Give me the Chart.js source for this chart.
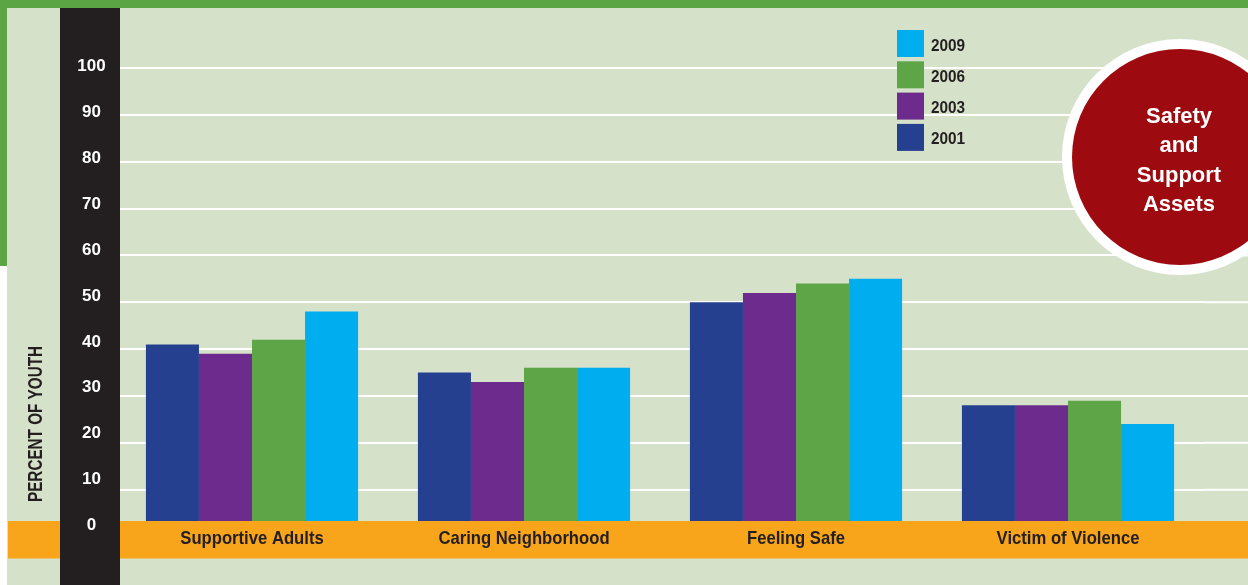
<!DOCTYPE html>
<html>
<head>
<meta charset="utf-8">
<script src="https://cdn.jsdelivr.net/npm/chart.js@4/dist/chart.umd.min.js"></script>
<style>
html,body{margin:0;padding:0;background:#fff;}
#wrap{width:1248px;height:585px;}
</style>
</head>
<body>
<div id="wrap"><canvas id="c" width="1248" height="585"></canvas></div>
<script>
// ---- data ----
const categories = ['Supportive Adults', 'Caring Neighborhood', 'Feeling Safe', 'Victim of Violence'];
const seriesNames = ['2001', '2003', '2006', '2009'];
const values2001 = [41, 35, 50, 28];
const values2003 = [39, 33, 52, 28];
const values2006 = [42, 36, 54, 29];
const values2009 = [48, 36, 55, 24];
const yTicks = [0, 10, 20, 30, 40, 50, 60, 70, 80, 90, 100];
const axisTitle = 'PERCENT OF YOUTH';
const badgeLines = ['Safety', 'and', 'Support', 'Assets'];

// ---- styles ----
const COL = {
  bg: '#d5e1c8', green: '#5ca545', black: '#231f20', orange: '#f8a51b',
  navy: '#24408e', purple: '#6d2c8d', lgreen: '#5da546', cyan: '#00aeef',
  red: '#9d0a10', white: '#ffffff', text: '#231f20'
};
const SANS = '"Liberation Sans", Arial, Helvetica, sans-serif';
const seriesColors = [COL.navy, COL.purple, COL.lgreen, COL.cyan];
const seriesValues = [values2001, values2003, values2006, values2009];

// draw a scale's labels horizontally condensed (reference uses a condensed face)
function condenseLabels(scale, f) {
  if (!scale || scale._condensed) return;
  scale._condensed = true;
  const orig = scale.drawLabels;
  scale.drawLabels = function (area) {
    const ctx = this.ctx;
    const base = CanvasRenderingContext2D.prototype.fillText;
    ctx.fillText = function (t, x, y, mw) {
      this.save(); this.scale(f, 1);
      if (mw === undefined) base.call(this, t, x / f, y); else base.call(this, t, x / f, y, mw / f);
      this.restore();
    };
    try { orig.call(this, area); } finally { delete ctx.fillText; }
  };
}

function condensedText(ctx, text, x, y, f) {
  ctx.save(); ctx.translate(x, y); ctx.scale(f, 1); ctx.fillText(text, 0, 0); ctx.restore();
}

const decor = {
  id: 'decor',
  beforeDraw(chart) {
    condenseLabels(chart.scales.x, 0.9);
    const {ctx, width, height} = chart;
    ctx.save();
    ctx.fillStyle = COL.white; ctx.fillRect(0, 0, width, height);
    ctx.fillStyle = COL.bg; ctx.fillRect(7, 0, width - 7, height);
    ctx.fillStyle = COL.green;
    ctx.fillRect(0, 0, width, 8);
    ctx.fillRect(0, 0, 7, 266);
    ctx.restore();
  },
  beforeDatasetsDraw(chart) {
    // extend horizontal grid lines to the right edge
    const {ctx, chartArea, width} = chart;
    const y = chart.scales.y;
    ctx.save();
    ctx.strokeStyle = COL.white; ctx.lineWidth = 2;
    yTicks.filter(v => v >= y.min).forEach(v => {
      const py = y.getPixelForValue(v);
      ctx.beginPath(); ctx.moveTo(chartArea.right, py); ctx.lineTo(width, py); ctx.stroke();
    });
    ctx.restore();
  },
  afterDatasetsDraw(chart) {
    const {ctx, width, height} = chart;
    ctx.save();
    // orange band
    ctx.fillStyle = COL.orange; ctx.fillRect(8, 521, width - 8, 37.5);
    // black axis bar
    ctx.fillStyle = COL.black; ctx.fillRect(60, 8, 60, height - 8);
    // axis title
    ctx.save();
    ctx.translate(42, 502);
    ctx.rotate(-Math.PI / 2);
    ctx.fillStyle = COL.text;
    ctx.font = 'bold 21px ' + SANS;
    ctx.textAlign = 'left'; ctx.textBaseline = 'alphabetic';
    const w = ctx.measureText(axisTitle).width;
    ctx.scale(156 / w, 1);
    ctx.fillText(axisTitle, 0, 0);
    ctx.restore();
    // legend (reverse order)
    const ds = chart.data.datasets;
    ctx.font = 'bold 16.5px ' + SANS;
    ctx.textBaseline = 'middle'; ctx.textAlign = 'left';
    for (let k = 0; k < ds.length; k++) {
      const d = ds[ds.length - 1 - k];
      const top = 30 + k * 31.3;
      ctx.fillStyle = d.backgroundColor;
      ctx.fillRect(897, top, 27, 27);
      ctx.fillStyle = COL.text;
      condensedText(ctx, d.label, 931, top + 16, 0.93);
    }
    // badge circle
    ctx.beginPath(); ctx.arc(1180, 157, 118, 0, Math.PI * 2); ctx.fillStyle = COL.white; ctx.fill();
    ctx.beginPath(); ctx.arc(1180, 157, 108, 0, Math.PI * 2); ctx.fillStyle = COL.red; ctx.fill();
    ctx.fillStyle = COL.white;
    ctx.font = 'bold 22px ' + SANS;
    ctx.textAlign = 'center'; ctx.textBaseline = 'middle';
    badgeLines.forEach((t, i) => ctx.fillText(t, 1179, 117 + i * 29.4));
    ctx.restore();
  }
};

new Chart(document.getElementById('c'), {
  type: 'bar',
  data: {
    labels: categories,
    datasets: seriesNames.map((n, i) => ({
      label: n,
      data: seriesValues[i],
      backgroundColor: seriesColors[i],
      borderWidth: 0,
      barPercentage: 1.0,
      categoryPercentage: 0.78,
      yAxisID: 'y'
    }))
  },
  options: {
    responsive: false,
    devicePixelRatio: 1,
    animation: false,
    layout: { padding: { top: 68, right: 44, left: 0, bottom: 0 } },
    plugins: { legend: { display: false }, tooltip: { enabled: false } },
    scales: {
      x: {
        grid: { display: false },
        border: { display: false },
        ticks: { z: 1, padding: -1.5, color: COL.text, font: { family: SANS, size: 18.5, weight: 'bold' }, maxRotation: 0, autoSkip: false },
        afterFit(s) { s.height = 64; }
      },
      yl: {
        // tick-label axis: labels sit slightly above the grid lines in the reference
        position: 'left',
        min: 1.025, max: 99.565,
        afterBuildTicks(s) { s.ticks = yTicks.map(v => ({ value: v })); },
        grid: { display: false, drawTicks: false },
        border: { display: false },
        ticks: { z: 1, padding: 10.3, crossAlign: 'center', color: COL.white, font: { family: SANS, size: 17, weight: 'bold' } },
        afterFit(s) { s.width = 116; }
      },
      y: {
        // the zero line lies under the orange band; bars are cut at the band's top edge
        position: 'left',
        min: 3.31, max: 100,
        afterBuildTicks(s) { s.ticks = yTicks.filter(v => v >= 10).map(v => ({ value: v })); },
        grid: { color: COL.white, lineWidth: 2, drawTicks: false },
        border: { display: false },
        ticks: { display: false },
        afterFit(s) { s.width = 0; }
      }
    }
  },
  plugins: [decor]
});
</script>
</body>
</html>
